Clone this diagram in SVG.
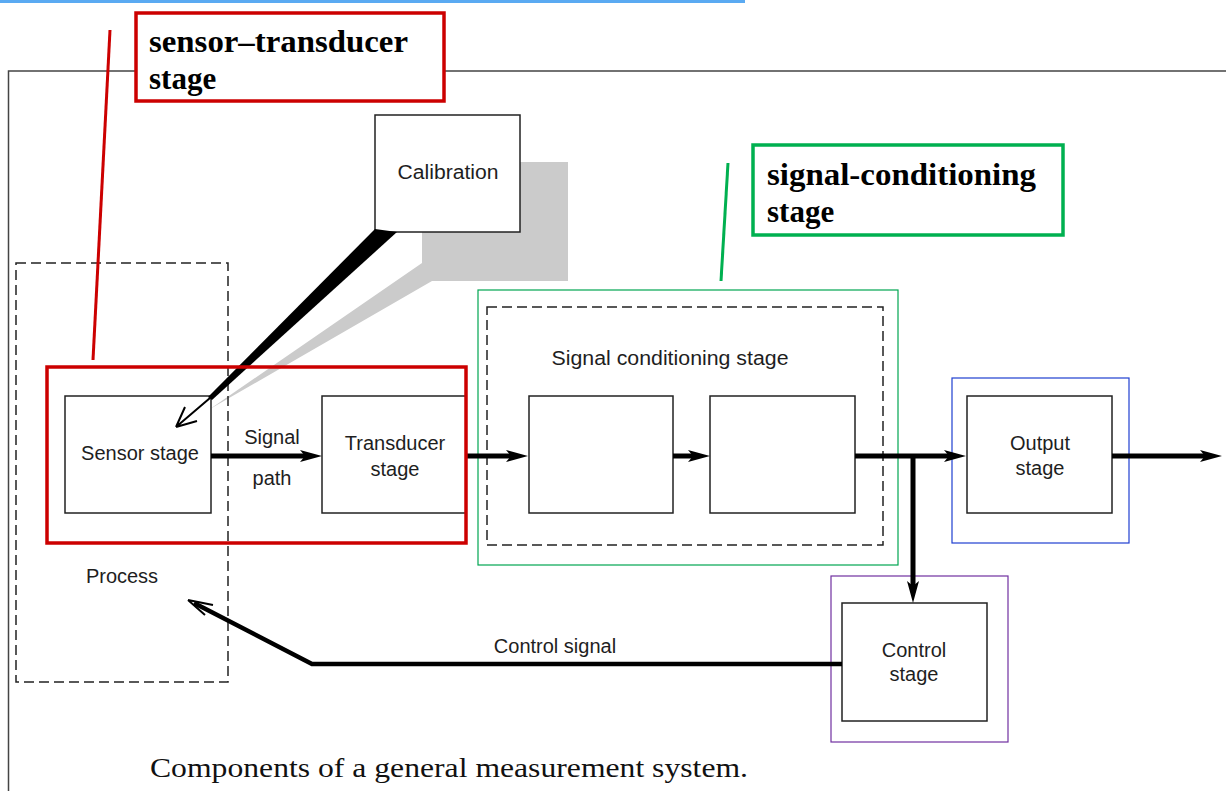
<svg xmlns="http://www.w3.org/2000/svg" width="1226" height="791" viewBox="0 0 1226 791">
<style>
.box{fill:none;stroke:#222;stroke-width:1.5}
.lbl{font-family:"Liberation Sans",Arial,sans-serif;font-size:20px;fill:#1e1e1e;text-anchor:middle}
.call{font-family:"Liberation Serif","Times New Roman",serif;font-size:31px;font-weight:bold;fill:#000}
.thick{fill:none;stroke:#000;stroke-width:5}
.thin{fill:none;stroke:#000;stroke-width:2}
.dash{fill:none;stroke:#222;stroke-width:1.5;stroke-dasharray:10 5}
</style>
<defs>
<marker id="ah" markerUnits="userSpaceOnUse" markerWidth="22" markerHeight="12" refX="8" refY="6" orient="auto">
<path d="M0,0 L22,6 L0,12 L5,6 Z" fill="#000"/>
</marker>
</defs>
<rect width="1226" height="791" fill="#fff"/>
<rect x="0" y="0" width="745" height="3" fill="#5aaaf2"/>
<g id="frame">
<path d="M1226,71 H8.5 V791" fill="none" stroke="#444" stroke-width="1.5"/>
</g>
<g id="calibration-shadow">
<polygon points="422,162 568,162 568,281 432,281 210,409 422,263" fill="#cbcbcb"/>
</g>
<g id="calibration">
<rect x="375" y="115" width="145" height="117" fill="#fff" stroke="#222" stroke-width="1.5"/>
<text class="lbl" x="448" y="179" textLength="101" lengthAdjust="spacingAndGlyphs">Calibration</text>
</g>
<g id="process">
<rect class="dash" x="16" y="263" width="212" height="419"/>
<text class="lbl" x="122" y="583">Process</text>
</g>
<g id="sensor">
<rect class="box" x="65" y="396" width="146" height="117"/>
<text class="lbl" x="140" y="460">Sensor stage</text>
</g>
<g id="transducer">
<rect class="box" x="322" y="396" width="144" height="117"/>
<text class="lbl" x="395" y="450">Transducer</text>
<text class="lbl" x="395" y="476">stage</text>
</g>
<g id="signal-conditioning">
<rect x="478" y="290" width="420" height="275" fill="none" stroke="#00a651" stroke-width="1.2"/>
<rect class="dash" x="487" y="307" width="396" height="238"/>
<text class="lbl" x="670" y="365" textLength="237" lengthAdjust="spacingAndGlyphs">Signal conditioning stage</text>
<rect class="box" x="529" y="396" width="144" height="117"/>
<rect class="box" x="710" y="396" width="145" height="117"/>
</g>
<g id="output">
<rect x="952" y="378" width="177" height="165" fill="none" stroke="#1f3fd0" stroke-width="1.2"/>
<rect class="box" x="967" y="396" width="145" height="117"/>
<text class="lbl" x="1040" y="450">Output</text>
<text class="lbl" x="1040" y="475">stage</text>
</g>
<g id="control">
<rect x="831" y="576" width="177" height="166" fill="none" stroke="#7030a0" stroke-width="1.2"/>
<rect class="box" x="842" y="603" width="145" height="118"/>
<text class="lbl" x="914" y="657">Control</text>
<text class="lbl" x="914" y="681">stage</text>
</g>
<g id="connectors">
<polygon points="375,229 397,232 212,400 208,397" fill="#000"/>
<path class="thin" d="M210,398 L176,427 M176,427 L197,421 M176,427 L185,407"/>
<path class="thick" d="M211,456 H308" marker-end="url(#ah)"/>
<path class="thick" d="M466,456 H514" marker-end="url(#ah)"/>
<path class="thick" d="M673,456 H696" marker-end="url(#ah)"/>
<path class="thick" d="M855,456 H952" marker-end="url(#ah)"/>
<path class="thick" d="M1112,456 H1208" marker-end="url(#ah)"/>
<path class="thick" d="M913,456 V589" marker-end="url(#ah)"/>
<path fill="none" stroke="#000" stroke-width="4.5" stroke-linejoin="miter" d="M842,664 H312 L194,603"/>
<path class="thin" d="M188,600 L213,605 M188,600 L205,615"/>
<text class="lbl" x="272" y="444">Signal</text>
<text class="lbl" x="272" y="485">path</text>
<text class="lbl" x="555" y="653">Control signal</text>
</g>
<g id="callout-sensor-transducer">
<line x1="110" y1="30" x2="93" y2="360" stroke="#cc0000" stroke-width="3"/>
<rect x="47" y="367" width="419" height="176" fill="none" stroke="#cc0000" stroke-width="3.5"/>
<rect x="136" y="13" width="308" height="88" fill="#fff" stroke="#cc0000" stroke-width="3.5"/>
<text class="call" x="149" y="52" textLength="259" lengthAdjust="spacingAndGlyphs">sensor–transducer</text>
<text class="call" x="149" y="89">stage</text>
</g>
<g id="callout-signal-conditioning">
<line x1="728" y1="163" x2="721" y2="281" stroke="#00b050" stroke-width="3"/>
<rect x="753" y="145" width="310" height="90" fill="#fff" stroke="#00b050" stroke-width="3.5"/>
<text class="call" x="767" y="185" textLength="269" lengthAdjust="spacingAndGlyphs">signal-conditioning</text>
<text class="call" x="767" y="222">stage</text>
</g>
<g id="caption">
<text x="150" y="777" font-family="Liberation Serif,'Times New Roman',serif" font-size="28" fill="#111" textLength="598" lengthAdjust="spacingAndGlyphs">Components of a general measurement system.</text>
</g>
</svg>
